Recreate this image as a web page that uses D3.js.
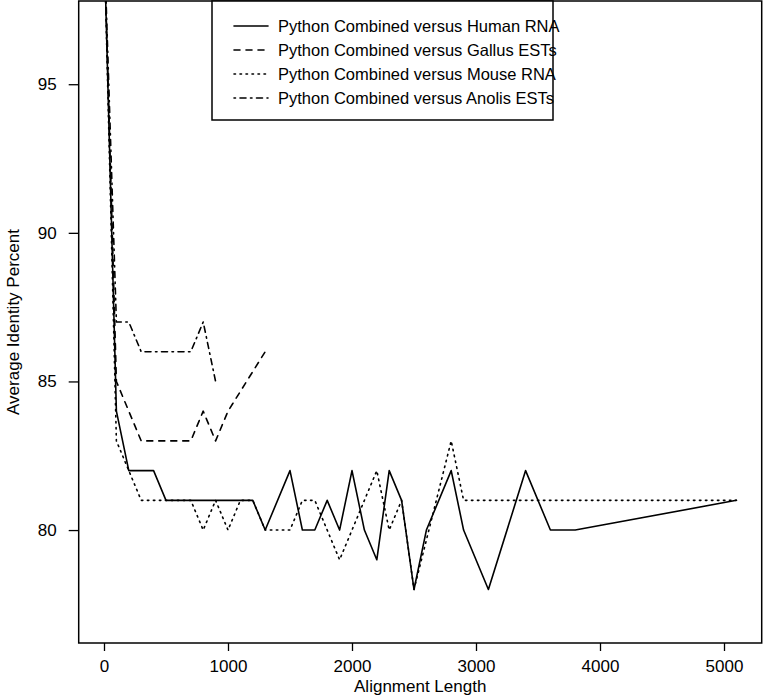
<!DOCTYPE html>
<html>
<head>
<meta charset="utf-8">
<script src="https://cdn.jsdelivr.net/npm/d3@7"></script>
<style>
  body { margin: 0; background: white; }
  svg text { font-family: "Liberation Sans", Arial, Helvetica, sans-serif; fill: black; }
</style>
</head>
<body>
<div id="chart"></div>
<script>
// series (x = alignment length, y = average identity %)
const humanLen   = [0, 100, 200, 400, 500, 1200, 1300, 1500, 1600, 1700, 1800, 1900, 2000, 2100, 2200, 2300, 2400, 2500, 2600, 2800, 2900, 3100, 3400, 3600, 3800, 5100];
const humanIdent = [100, 84, 82, 82, 81, 81, 80, 82, 80, 80, 81, 80, 82, 80, 79, 82, 81, 78, 80, 82, 80, 78, 82, 80, 80, 81];

const gallusLen   = [0, 100, 300, 700, 800, 900, 1000, 1300];
const gallusIdent = [100, 85, 83, 83, 84, 83, 84, 86];

const mouseLen   = [0, 100, 300, 700, 800, 900, 1000, 1100, 1200, 1300, 1500, 1600, 1700, 1900, 2200, 2300, 2400, 2500, 2800, 2900, 5100];
const mouseIdent = [100, 83, 81, 81, 80, 81, 80, 81, 81, 80, 80, 81, 81, 79, 82, 80, 81, 78, 83, 81, 81];

const anolisLen   = [0, 100, 200, 300, 700, 800, 900];
const anolisIdent = [100, 87, 87, 86, 86, 87, 85];

const seriesNames = [
  "Python Combined versus Human RNA",
  "Python Combined versus Gallus ESTs",
  "Python Combined versus Mouse RNA",
  "Python Combined versus Anolis ESTs"
];
const xTicks = [0, 1000, 2000, 3000, 4000, 5000];
const yTicks = [80, 85, 90, 95];
const xLimits = [0, 5100];
const yLimits = [77, 97];

// settings
let width = 763, height = 697;
let plot = {left: 78.7, right: 761.7, top: 1, bottom: 643};
let lwd = 1.6;
let dashes = ["none", "6,6", "1.5,4.5", "1.5,4.5,6,4.5"];

// R-style 4% padding on both axes
function pad(lim) {
  let d = (lim[1] - lim[0]) * 0.04;
  return [lim[0] - d, lim[1] + d];
}

let x = d3.scaleLinear().domain(pad(xLimits)).range([plot.left, plot.right]);
let y = d3.scaleLinear().domain(pad(yLimits)).range([plot.bottom, plot.top]);

let series = [
  {len: humanLen, ident: humanIdent},
  {len: gallusLen, ident: gallusIdent},
  {len: mouseLen, ident: mouseIdent},
  {len: anolisLen, ident: anolisIdent}
].map(function (s, i) {
  return {name: seriesNames[i], dash: dashes[i],
    values: s.len.map(function (v, j) { return [v, s.ident[j]]; })};
});

let svg = d3.select("#chart").append("svg")
  .attr("width", width)
  .attr("height", height)
  .style("background", "white");

svg.append("defs").append("clipPath")
  .attr("id", "plot-clip")
  .append("rect")
  .attr("x", plot.left).attr("y", plot.top)
  .attr("width", plot.right - plot.left)
  .attr("height", plot.bottom - plot.top);

let line = d3.line()
  .x(function (d) { return x(d[0]); })
  .y(function (d) { return y(d[1]); });

// lines
svg.append("g")
  .attr("clip-path", "url(#plot-clip)")
  .selectAll("path")
  .data(series)
  .enter()
  .append("path")
  .attr("d", function (d) { return line(d.values); })
  .attr("fill", "none")
  .attr("stroke", "black")
  .attr("stroke-width", lwd)
  .attr("stroke-linecap", "round")
  .attr("stroke-linejoin", "round")
  .attr("stroke-dasharray", function (d) { return d.dash; });

// x axis
let xAxis = d3.axisBottom(x).tickValues(xTicks).tickSize(8).tickPadding(9).tickFormat(d3.format("d"));
let gx = svg.append("g")
  .attr("transform", "translate(0," + plot.bottom + ")")
  .call(xAxis);

// y axis
let yAxis = d3.axisLeft(y).tickValues(yTicks).tickSize(10).tickPadding(12).tickFormat(d3.format("d"));
let gy = svg.append("g")
  .attr("transform", "translate(" + plot.left + ",0)")
  .call(yAxis);

[gx, gy].forEach(function (g) {
  g.select(".domain").remove();
  g.selectAll(".tick line").attr("stroke", "black").attr("stroke-width", 1.3);
  g.selectAll(".tick text").style("font-size", "17px").attr("fill", "black");
});
gx.selectAll(".tick text").attr("dy", "0.71em");

// frame
svg.append("rect")
  .attr("x", plot.left).attr("y", plot.top)
  .attr("width", plot.right - plot.left)
  .attr("height", plot.bottom - plot.top)
  .attr("fill", "none")
  .attr("stroke", "black")
  .attr("stroke-width", 1.5);

// axis titles
svg.append("text")
  .attr("x", (plot.left + plot.right) / 2)
  .attr("y", 692)
  .attr("text-anchor", "middle")
  .style("font-size", "17px")
  .text("Alignment Length");

svg.append("text")
  .attr("transform", "translate(19," + (plot.top + plot.bottom) / 2 + ") rotate(-90)")
  .attr("text-anchor", "middle")
  .style("font-size", "17px")
  .text("Average Identity Percent");

// legend
let legend = {left: 212, right: 553, top: 1, rowY: 26, rowH: 24};
let lg = svg.append("g");
lg.append("rect")
  .attr("x", legend.left).attr("y", legend.top)
  .attr("width", legend.right - legend.left)
  .attr("height", 119)
  .attr("fill", "white")
  .attr("stroke", "black")
  .attr("stroke-width", 1.5);

let rows = lg.selectAll(".legend-row")
  .data(series)
  .enter()
  .append("g")
  .attr("class", "legend-row")
  .attr("transform", function (d, i) { return "translate(0," + (legend.rowY + i * legend.rowH) + ")"; });

rows.append("line")
  .attr("x1", 234).attr("x2", 268)
  .attr("stroke", "black")
  .attr("stroke-width", lwd)
  .attr("stroke-linecap", "round")
  .attr("stroke-dasharray", function (d) { return d.dash; });

rows.append("text")
  .attr("x", 278)
  .attr("dy", "0.35em")
  .style("font-size", "16.5px")
  .text(function (d) { return d.name; });
</script>
</body>
</html>
